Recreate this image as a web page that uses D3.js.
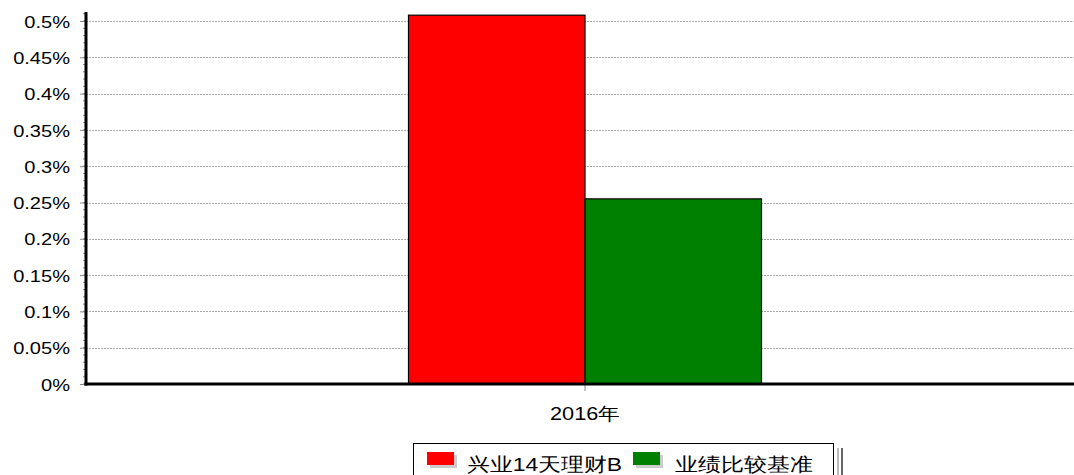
<!DOCTYPE html>
<html>
<head>
<meta charset="utf-8">
<script src="https://cdn.jsdelivr.net/npm/d3@7"></script>
<style>
  body { margin: 0; background: #fff; }
  svg { display: block; font-family: "Liberation Sans", Arial, sans-serif; }
</style>
</head>
<body>
<svg id="chart" width="1074" height="475"></svg>
<script>
// data
var categories = ['2016年'];
var seriesNames = ['兴业14天理财B', '业绩比较基准'];
var seriesColors = ['#ff0000', '#008000'];
var seriesValues = [[0.508], [0.255]];
var yTicks = [0, 0.05, 0.1, 0.15, 0.2, 0.25, 0.3, 0.35, 0.4, 0.45, 0.5];

var width = 1074, height = 475;
var margin = { left: 86, right: -10, top: 12, bottom: 91 };
var svg = d3.select('#chart');

// the source picture is a little stretched sideways
var stretch = 1.18;

var x = d3.scaleBand()
    .domain(categories)
    .range([margin.left, width - margin.right])
    .paddingInner(0).paddingOuter(0);
var groupW = 353;
var xs = d3.scaleBand()
    .domain(seriesNames)
    .range([0, groupW]);
var y = d3.scaleLinear()
    .domain([0, 0.5124])
    .range([height - margin.bottom, margin.top]);

// grid lines
svg.append('g')
    .selectAll('line')
    .data(yTicks.filter(function(d) { return d > 0; }))
    .enter().append('line')
    .attr('x1', margin.left).attr('x2', width)
    .attr('y1', function(d) { return Math.round(y(d)) + 0.5; })
    .attr('y2', function(d) { return Math.round(y(d)) + 0.5; })
    .attr('stroke', '#aaa')
    .attr('stroke-width', 1)
    .attr('stroke-dasharray', '2,1');

// bars
var groups = svg.append('g')
    .selectAll('g')
    .data(categories)
    .enter().append('g')
    .attr('transform', function(d) {
        return 'translate(' + (x(d) + x.bandwidth() / 2 - groupW / 2) + ',0)';
    });
seriesNames.forEach(function(name, si) {
    groups.append('rect')
        .attr('x', function(d, i) { return xs(name); })
        .attr('y', function(d, i) { return y(seriesValues[si][i]); })
        .attr('width', xs.bandwidth())
        .attr('height', function(d, i) { return y(0) - y(seriesValues[si][i]); })
        .attr('fill', seriesColors[si])
        .attr('stroke', '#000')
        .attr('stroke-width', 1.2);
});

// y axis: minor ticks
var minor = d3.range(0, 0.511, 0.01);
svg.append('g')
    .selectAll('line')
    .data(minor)
    .enter().append('line')
    .attr('x1', margin.left - 3).attr('x2', margin.left)
    .attr('y1', function(d) { return y(d); })
    .attr('y2', function(d) { return y(d); })
    .attr('stroke', '#888');

var yAxis = svg.append('g')
    .attr('transform', 'translate(' + margin.left + ',0)')
    .call(d3.axisLeft(y).tickValues(yTicks).tickSize(6).tickPadding(10)
        .tickFormat(function(d) { return d3.format('~g')(d) + '%'; }));
yAxis.select('.domain').remove();
yAxis.selectAll('.tick line').attr('stroke', '#888');
yAxis.selectAll('.tick text')
    .attr('fill', '#000')
    .attr('dy', '0.36em')
    .style('font-size', '17px')
    .style('font-family', '"Liberation Sans", Arial, sans-serif')
    .each(function() {
        d3.select(this)
            .attr('textLength', this.getComputedTextLength() * stretch)
            .attr('lengthAdjust', 'spacingAndGlyphs');
    });

// x axis
var xAxis = svg.append('g')
    .attr('transform', 'translate(0,' + (height - margin.bottom) + ')')
    .call(d3.axisBottom(x).tickSize(7).tickPadding(16));
xAxis.select('.domain').remove();
xAxis.selectAll('.tick line').attr('stroke', '#888');
xAxis.selectAll('.tick text')
    .attr('fill', '#000')
    .attr('textLength', 70)
    .attr('lengthAdjust', 'spacingAndGlyphs')
    .style('font-size', '18px')
    .style('font-family', '"Liberation Sans", Arial, sans-serif');

// thick axis lines
svg.append('line')
    .attr('x1', margin.left).attr('x2', margin.left)
    .attr('y1', margin.top).attr('y2', y(0) + 1.5)
    .attr('stroke', '#000').attr('stroke-width', 3);
svg.append('line')
    .attr('x1', margin.left - 1.5).attr('x2', width)
    .attr('y1', y(0)).attr('y2', y(0))
    .attr('stroke', '#000').attr('stroke-width', 3);

// legend
var legend = svg.append('g').attr('transform', 'translate(413,443)');
legend.append('rect')
    .attr('x', 424).attr('y', 5).attr('width', 2).attr('height', 40)
    .attr('fill', '#bbb');
legend.append('rect')
    .attr('x', 428).attr('y', 5).attr('width', 2).attr('height', 40)
    .attr('fill', '#666');
legend.append('rect')
    .attr('x', 0.5).attr('y', 0.5).attr('width', 420).attr('height', 40)
    .attr('fill', '#fff').attr('stroke', '#000').attr('stroke-width', 1);
var legX = [14, 220];
var legTextW = [155, 138];
seriesNames.forEach(function(name, i) {
    var g = legend.append('g').attr('transform', 'translate(' + legX[i] + ',0)');
    g.append('rect')
        .attr('x', 3).attr('y', 12).attr('width', 27).attr('height', 13)
        .attr('fill', '#ccc');
    g.append('rect')
        .attr('x', 0).attr('y', 9).attr('width', 27).attr('height', 13)
        .attr('fill', seriesColors[i]);
    g.append('text')
        .attr('x', i === 0 ? 40 : 42).attr('y', 28)
        .attr('textLength', legTextW[i])
        .attr('lengthAdjust', 'spacingAndGlyphs')
        .style('font-size', '19px')
        .attr('fill', '#000')
        .text(name);
});
</script>
</body>
</html>
